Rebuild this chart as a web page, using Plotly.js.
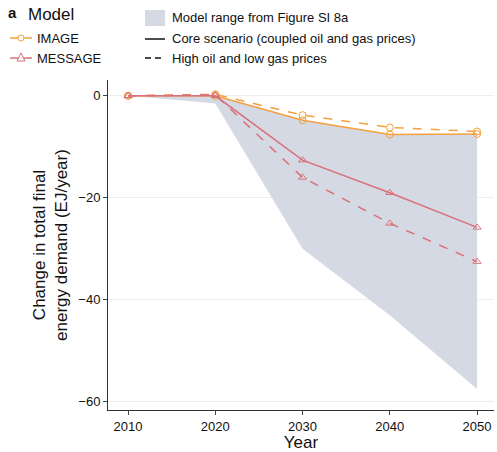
<!DOCTYPE html>
<html><head><script src="https://cdn.plot.ly/plotly-3.0.1.min.js"></script>
<style>body{margin:0}</style></head><body><div id="c" style="width:497px;height:452px"></div>
<script>
var years = [2010, 2020, 2030, 2040, 2050];
var imageCore = [0, 0, -4.8, -7.6, -7.5];
var imageHigh = [0, 0.3, -3.8, -6.2, -7];
var messageCore = [0, 0, -12.6, -19, -25.8];
var messageHigh = [0, 0.2, -16, -25, -32.5];
var rangeUpper = [0, 0, -4.8, -7.6, -7.5];
var rangeLower = [0, -1.5, -30, -43, -57.5];

var orange = '#f5a03c', red = '#d9707a';
function line(y, color, dash, sym) {
  return {x: years, y: y, mode: 'lines+markers', type: 'scatter', showlegend: false,
    line: {color: color, width: 1.5, dash: dash},
    marker: {symbol: sym, size: 7, color: color, line: {color: color, width: 1}}};
}
var data = [
  {x: years, y: rangeUpper, mode: 'lines', line: {width: 0}, showlegend: false, hoverinfo: 'skip'},
  {x: years, y: rangeLower, mode: 'lines', line: {width: 0}, fill: 'tonexty', fillcolor: '#d5d9e4', showlegend: false},
  line(imageCore, orange, 'solid', 'circle-open'),
  line(imageHigh, orange, 'dash', 'circle-open'),
  line(messageCore, red, 'solid', 'triangle-up-open'),
  line(messageHigh, red, 'dash', 'triangle-up-open')
];
var f = {family: 'Liberation Sans, Arial', size: 13, color: '#111'};
function px(x) { return (x - 108) / 386; }
function py(y) { return (410 - y) / 330; }
function txt(x, y, t, size) {
  return {xref: 'paper', yref: 'paper', x: px(x), y: py(y), text: t, showarrow: false,
    xanchor: 'left', yanchor: 'middle', font: {size: size || 13}};
}
var layout = {
  width: 497, height: 452, margin: {l: 108, r: 3, t: 80, b: 42},
  plot_bgcolor: 'white', paper_bgcolor: 'white', font: f,
  xaxis: {range: [2007.7, 2051.94], tickvals: years, ticks: 'outside', ticklen: 4, showgrid: false,
    showline: true, linecolor: '#333', zeroline: false,
    title: {text: 'Year', font: {size: 17}, standoff: 4}},
  yaxis: {range: [-61.6, 3.1], tickvals: [0, -20, -40, -60], ticktext: ['0', '\u221220', '\u221240', '\u221260'],
    ticks: 'outside', ticklen: 4, showgrid: true, gridcolor: '#eeeeee', showline: true,
    linecolor: '#333', zeroline: false,
    title: {text: 'Change in total final<br>energy demand (EJ/year)', font: {size: 17}, standoff: 6}},
  shapes: [
    {type: 'rect', xref: 'paper', yref: 'paper', x0: px(145), x1: px(165), y0: py(26), y1: py(10), fillcolor: '#d5d9e4', line: {width: 0}},
    {type: 'line', xref: 'paper', yref: 'paper', x0: px(145), x1: px(165), y0: py(39), y1: py(39), line: {color: '#111', width: 1.5}},
    {type: 'line', xref: 'paper', yref: 'paper', x0: px(145), x1: px(165), y0: py(58), y1: py(58), line: {color: '#111', width: 1.5, dash: '6px,4px'}},
    {type: 'line', xref: 'paper', yref: 'paper', x0: px(10), x1: px(32), y0: py(38), y1: py(38), line: {color: orange, width: 1.5}},
    {type: 'line', xref: 'paper', yref: 'paper', x0: px(10), x1: px(32), y0: py(58), y1: py(58), line: {color: red, width: 1.5}},
    {type: 'circle', xref: 'paper', yref: 'paper', x0: px(18), x1: px(24), y0: py(41), y1: py(35), line: {color: orange, width: 1}, fillcolor: 'white'},
    {type: 'path', xref: 'paper', yref: 'paper', path: 'M ' + px(17) + ' ' + py(61) + ' L ' + px(25) + ' ' + py(61) + ' L ' + px(21) + ' ' + py(53) + ' Z', line: {color: red, width: 1}, fillcolor: 'white'}
  ],
  annotations: [
    txt(6, 12, '<b>a</b>', 15),
    txt(26, 14, 'Model', 17),
    txt(35, 38, 'IMAGE'),
    txt(35, 58, 'MESSAGE'),
    txt(170, 18, 'Model range from Figure SI 8a'),
    txt(170, 39, 'Core scenario (coupled oil and gas prices)'),
    txt(170, 58, 'High oil and low gas prices')
  ]
};
Plotly.newPlot('c', data, layout, {staticPlot: true});
</script></body></html>
